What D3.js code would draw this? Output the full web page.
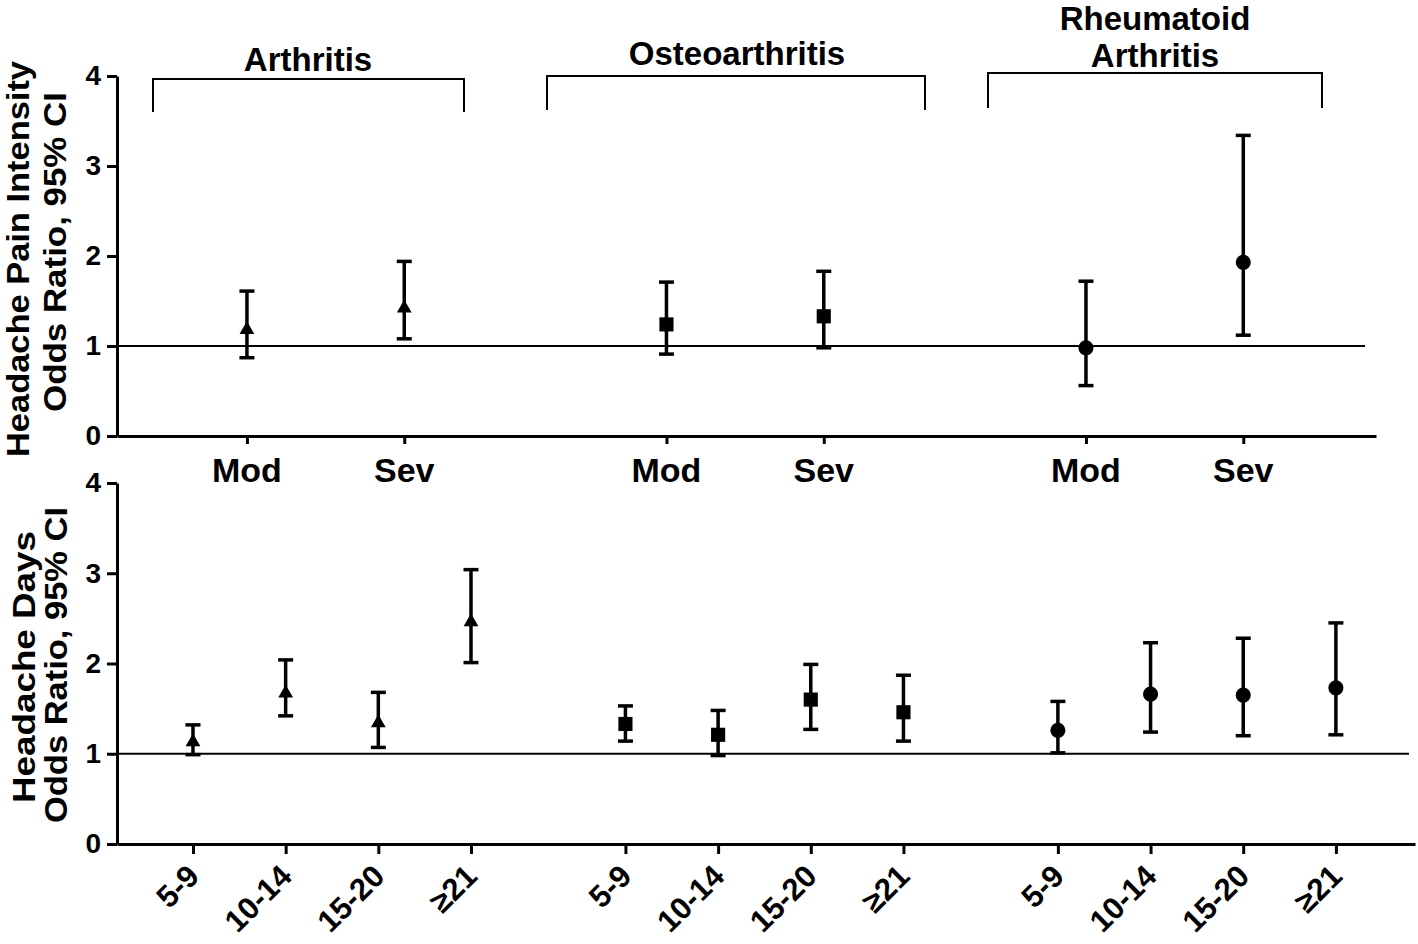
<!DOCTYPE html>
<html><head><meta charset="utf-8">
<script src="https://cdn.jsdelivr.net/npm/d3@7"></script>
<style>
html,body{margin:0;padding:0;background:#fff;}
svg{display:block;font-family:"Liberation Sans",Arial,sans-serif;font-weight:bold;}
</style></head>
<body>
<svg id="chart" width="1418" height="944"></svg>
<script>
// ---------- data ----------
const groups = ["Arthritis", "Osteoarthritis", "Rheumatoid Arthritis"];
const groupLabelLines = [["Arthritis"], ["Osteoarthritis"], ["Rheumatoid", "Arthritis"]];
const symbols = ["triangle", "square", "circle"];

const severityCats = ["Mod", "Sev"];
// Headache pain intensity OR (est, lower, upper) per group, per severity
const painOR    = [[1.18, 1.42], [1.24, 1.33], [0.98, 1.93]];
const painLower = [[0.87, 1.08], [0.91, 0.98], [0.56, 1.12]];
const painUpper = [[1.61, 1.94], [1.71, 1.83], [1.72, 3.34]];

const dayCats = ["5-9", "10-14", "15-20", "\u226521"];
const daysOR    = [[1.13, 1.67, 1.34, 2.46], [1.33, 1.21, 1.60, 1.46], [1.26, 1.66, 1.65, 1.73]];
const daysLower = [[0.99, 1.42, 1.07, 2.01], [1.14, 0.98, 1.27, 1.14], [1.01, 1.24, 1.20, 1.21]];
const daysUpper = [[1.32, 2.04, 1.68, 3.04], [1.53, 1.48, 1.99, 1.87], [1.58, 2.23, 2.28, 2.45]];

const yTicks = [0, 1, 2, 3, 4];
const refValue = 1;

// ---------- layout ----------
const svg = d3.select("#chart");
const axisX = 117;
const topP = {y0: 436, y1: 76, xEnd: 1376, refEnd: 1365};
const botP = {y0: 844, y1: 483, xEnd: 1415, refEnd: 1409};

const yTop = d3.scaleLinear().domain([0, 4]).range([topP.y0, topP.y1]);
const yBot = d3.scaleLinear().domain([0, 4]).range([botP.y0, botP.y1]);

// x positions in "slot" units: groups separated by an extra 2/3 slot gap
const topGroupStep = severityCats.length + 2 / 3;
const botGroupStep = dayCats.length + 2 / 3;
const xTop = d3.scaleLinear().domain([-0.826, 7.177]).range([axisX, topP.xEnd]);
const xBot = d3.scaleLinear().domain([-0.82, 13.187]).range([axisX, botP.xEnd]);

const symGen = {
  triangle: d3.symbol().type(d3.symbolTriangle).size(95),
  square: d3.symbol().type(d3.symbolSquare).size(200),
  circle: d3.symbol().type(d3.symbolCircle).size(180)
};

function yAxis(scale) {
  return d3.axisLeft(scale).tickValues(yTicks).tickFormat(d3.format("d"))
    .tickSize(10).tickSizeOuter(0).tickPadding(6);
}

function styleAxis(g) {
  g.selectAll("path.domain").attr("stroke", "#000").attr("stroke-width", 3);
  g.selectAll(".tick line").attr("stroke", "#000").attr("stroke-width", 3);
  g.selectAll(".tick text").attr("fill", "#000").style("font-size", "28px")
    .style("font-family", "'Liberation Sans',Arial,sans-serif").style("font-weight", "bold");
}

// ---------- top panel ----------
const topPos = [];
groups.forEach((g, gi) => severityCats.forEach((c, ci) => topPos.push(gi * topGroupStep + ci)));

const gyT = svg.append("g").attr("transform", `translate(${axisX},0)`).call(yAxis(yTop));
styleAxis(gyT);
const gxT = svg.append("g").attr("transform", `translate(0,${topP.y0})`)
  .call(d3.axisBottom(xTop).tickValues(topPos).tickFormat("").tickSize(8).tickSizeOuter(0));
styleAxis(gxT);

svg.append("line").attr("x1", axisX).attr("x2", topP.refEnd)
  .attr("y1", yTop(refValue)).attr("y2", yTop(refValue))
  .attr("stroke", "#000").attr("stroke-width", 2);

// category labels Mod/Sev
groups.forEach((g, gi) => severityCats.forEach((c, ci) => {
  svg.append("text").attr("x", xTop(gi * topGroupStep + ci)).attr("y", 482)
    .attr("text-anchor", "middle").style("font-size", "34px").text(c);
}));

function drawErr(xs, ys, x, est, lo, hi, sym) {
  const g = svg.append("g");
  g.append("line").attr("x1", xs(x)).attr("x2", xs(x)).attr("y1", ys(lo)).attr("y2", ys(hi))
    .attr("stroke", "#000").attr("stroke-width", 3.5);
  [lo, hi].forEach(v => g.append("line").attr("x1", xs(x) - 7.5).attr("x2", xs(x) + 7.5)
    .attr("y1", ys(v)).attr("y2", ys(v)).attr("stroke", "#000").attr("stroke-width", 3.5));
  g.append("path").attr("d", symGen[sym]()).attr("fill", "#000")
    .attr("transform", `translate(${xs(x)},${ys(est)})`);
}

groups.forEach((g, gi) => severityCats.forEach((c, ci) => {
  drawErr(xTop, yTop, gi * topGroupStep + ci, painOR[gi][ci], painLower[gi][ci], painUpper[gi][ci], symbols[gi]);
}));

// brackets + group labels
const brackets = [
  {x1: 153, x2: 464, yTop: 79, yBot: 112, labelX: 308, labelY: [71]},
  {x1: 547, x2: 925, yTop: 76, yBot: 110, labelX: 737, labelY: [65]},
  {x1: 988, x2: 1322, yTop: 73, yBot: 108, labelX: 1155, labelY: [30, 67]}
];
brackets.forEach((b, i) => {
  svg.append("path")
    .attr("d", `M${b.x1},${b.yBot}V${b.yTop}H${b.x2}V${b.yBot}`)
    .attr("fill", "none").attr("stroke", "#000").attr("stroke-width", 2);
  groupLabelLines[i].forEach((t, li) => {
    svg.append("text").attr("x", b.labelX).attr("y", b.labelY[li])
      .attr("text-anchor", "middle").style("font-size", "33px").text(t);
  });
});

// ---------- bottom panel ----------
const botPos = [];
groups.forEach((g, gi) => dayCats.forEach((c, ci) => botPos.push(gi * botGroupStep + ci)));

const gyB = svg.append("g").attr("transform", `translate(${axisX},0)`).call(yAxis(yBot));
styleAxis(gyB);
const gxB = svg.append("g").attr("transform", `translate(0,${botP.y0})`)
  .call(d3.axisBottom(xBot).tickValues(botPos).tickFormat("").tickSize(10).tickSizeOuter(0));
styleAxis(gxB);

svg.append("line").attr("x1", axisX).attr("x2", botP.refEnd)
  .attr("y1", yBot(refValue)).attr("y2", yBot(refValue))
  .attr("stroke", "#000").attr("stroke-width", 2);

groups.forEach((g, gi) => dayCats.forEach((c, ci) => {
  const px = xBot(gi * botGroupStep + ci);
  svg.append("text").attr("text-anchor", "end")
    .attr("transform", `translate(${px + 8},878) rotate(-45)`)
    .style("font-size", "31px").text(c);
  drawErr(xBot, yBot, gi * botGroupStep + ci, daysOR[gi][ci], daysLower[gi][ci], daysUpper[gi][ci], symbols[gi]);
}));

// ---------- y-axis titles ----------
function yTitle(x, cy, text, len) {
  svg.append("text").attr("transform", `translate(${x},${cy}) rotate(-90)`)
    .attr("text-anchor", "middle").style("font-size", "32px")
    .attr("textLength", len).attr("lengthAdjust", "spacingAndGlyphs").text(text);
}
yTitle(29, 259, "Headache Pain Intensity", 396);
yTitle(66, 252, "Odds Ratio, 95% CI", 320);
yTitle(35, 667, "Headache Days", 272);
yTitle(67, 665, "Odds Ratio, 95% CI", 316);
</script>
</body></html>
